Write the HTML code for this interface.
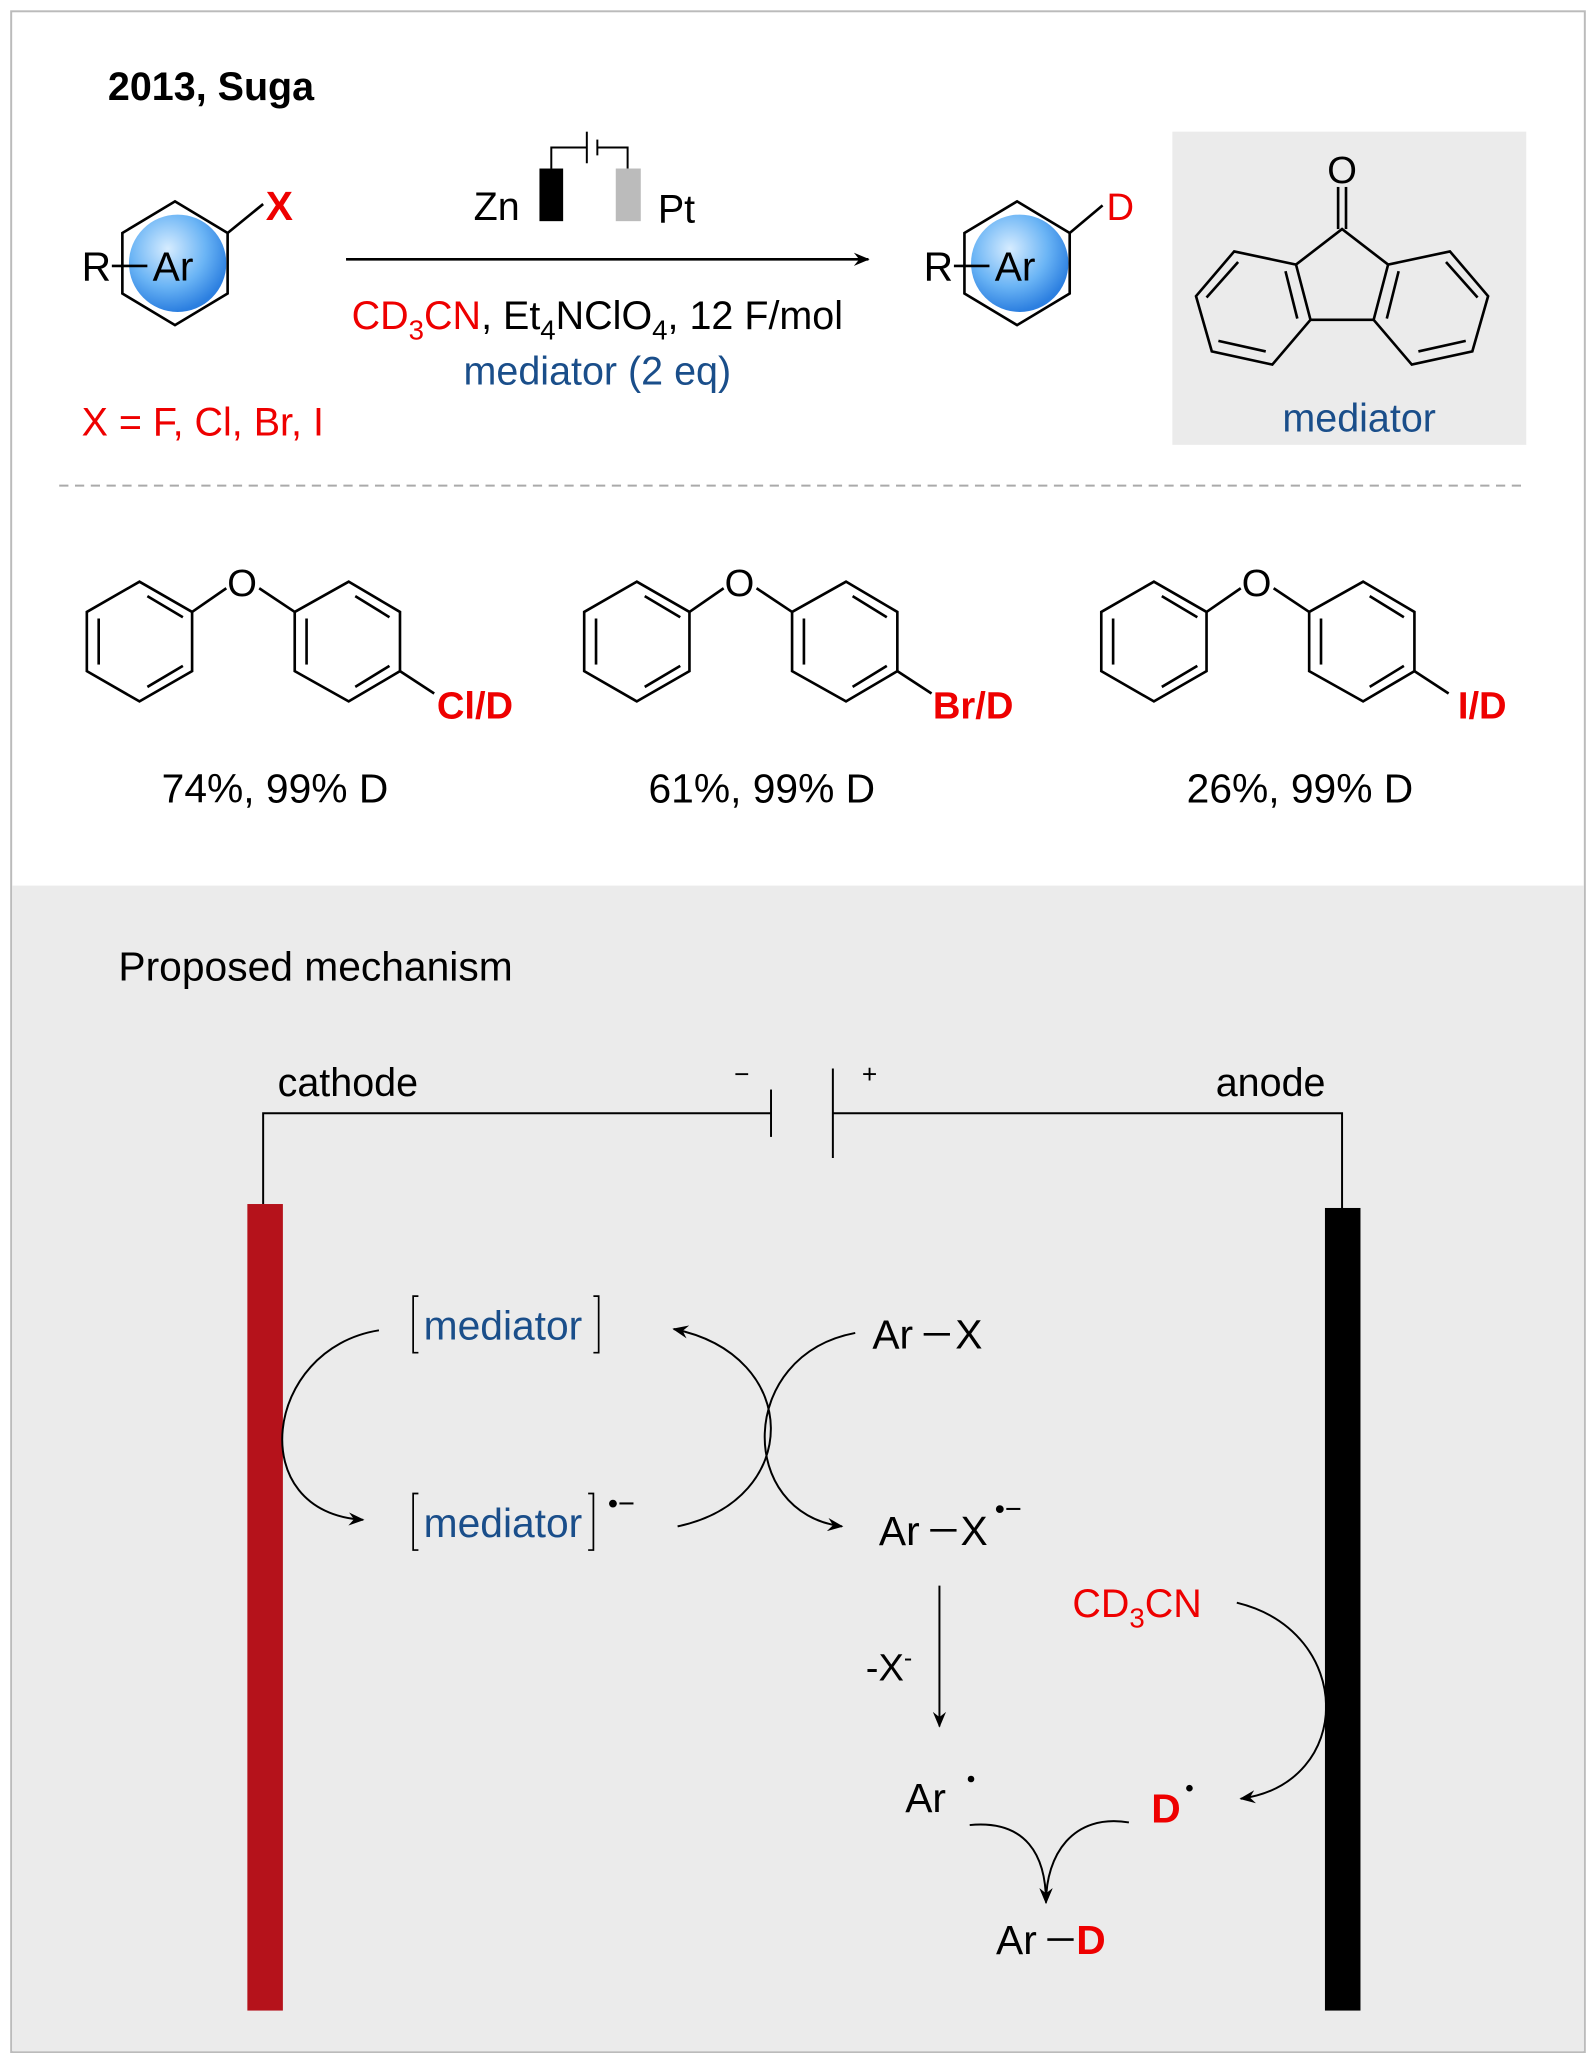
<!DOCTYPE html>
<html><head><meta charset="utf-8"><style>
html,body{margin:0;padding:0;background:#fff}
svg{display:block}
text{font-family:"Liberation Sans",Arial,sans-serif}
</style></head><body>
<svg width="1596" height="2062" viewBox="0 0 1213 1567" xmlns="http://www.w3.org/2000/svg">
<defs>
<radialGradient id="g" cx="40%" cy="35%" r="65%"><stop offset="0" stop-color="#d6ecff"/><stop offset="0.6" stop-color="#6ab4f5"/><stop offset="1" stop-color="#2c7fe0"/></radialGradient>
<marker id="ah" markerWidth="12" markerHeight="10" refX="11" refY="5" orient="auto" markerUnits="userSpaceOnUse"><path d="M0,0 L12,5 L0,10 L4,5z" fill="#000"/></marker>
</defs>
<rect x="0" y="0" width="1213" height="1567" fill="#fff"/>
<rect x="8.5" y="8.5" width="1196" height="1551" fill="#fff" stroke="#bbb" stroke-width="1.5"/>
<rect x="9.5" y="673" width="1194" height="886" fill="#ebebeb"/>

<text x="82" y="76" font-size="30" font-weight="bold">2013, Suga</text>

<!-- left arene -->
<g stroke="#000" stroke-width="2" fill="none">
<polygon points="133,153 173,177 173,223 133,247 93,223 93,177"/>
<line x1="173" y1="177" x2="200" y2="155"/>
</g>
<circle cx="135" cy="200" r="37" fill="url(#g)"/>
<line x1="85" y1="202" x2="112" y2="202" stroke="#000" stroke-width="2"/>
<text x="62" y="213" font-size="31">R</text>
<text x="116" y="213" font-size="31">Ar</text>
<text x="202" y="167" font-size="31" font-weight="bold" fill="#e00">X</text>

<!-- arrow and battery -->
<line x1="263" y1="197" x2="660" y2="197" stroke="#000" stroke-width="2" marker-end="url(#ah)"/>
<text x="360" y="167" font-size="30">Zn</text>
<rect x="410" y="128" width="18" height="40" fill="#000"/>
<rect x="468" y="128" width="19" height="40" fill="#bbb"/>
<g stroke="#000" stroke-width="1.5" fill="none">
<polyline points="419,128 419,112 446,112"/><line x1="446" y1="100" x2="446" y2="124"/>
<line x1="454" y1="106" x2="454" y2="118"/><polyline points="454,112 477,112 477,128"/>
</g>
<text x="500" y="169" font-size="30">Pt</text>
<text x="454" y="250" font-size="30" text-anchor="middle"><tspan fill="#e00">CD<tspan font-size="21" dy="8">3</tspan><tspan dy="-8">CN</tspan></tspan>, Et<tspan font-size="21" dy="8">4</tspan><tspan dy="-8">NClO</tspan><tspan font-size="21" dy="8">4</tspan><tspan dy="-8">, 12 F/mol</tspan></text>
<text x="454" y="292" font-size="30" text-anchor="middle" fill="#1a4e8a">mediator (2 eq)</text>
<text x="62" y="331" font-size="30" fill="#e00">X = F, Cl, Br, I</text>

<!-- product -->
<g stroke="#000" stroke-width="2" fill="none">
<polygon points="773,153 813,177 813,223 773,247 733,223 733,177"/>
<line x1="813" y1="177" x2="838" y2="156"/>
</g>
<circle cx="775" cy="200" r="37" fill="url(#g)"/>
<line x1="725" y1="202" x2="752" y2="202" stroke="#000" stroke-width="2"/>
<text x="702" y="213" font-size="31">R</text>
<text x="756" y="213" font-size="31">Ar</text>
<text x="841" y="167" font-size="29" fill="#e00">D</text>

<!-- mediator box -->
<rect x="891" y="100" width="269" height="238" fill="#ebebeb"/>
<g stroke="#000" stroke-width="2" fill="none">
<line x1="1017" y1="142" x2="1017" y2="174"/><line x1="1023" y1="142" x2="1023" y2="174"/>
<polyline points="985,201 1020,174 1055,201"/>
<polygon points="938,191 985,201 996,243 967,277 921,267 909,225"/>
<polygon points="1102,191 1055,201 1044,243 1073,277 1119,267 1131,225"/>
<line x1="996" y1="243" x2="1044" y2="243"/>
<line x1="941" y1="199" x2="917" y2="226"/>
<line x1="977" y1="206" x2="986" y2="242"/><line x1="926" y1="259" x2="962" y2="267"/>
<line x1="1099" y1="199" x2="1123" y2="226"/><line x1="1063" y1="206" x2="1054" y2="242"/><line x1="1114" y1="259" x2="1078" y2="267"/>
</g>
<text x="1020" y="139" font-size="29" text-anchor="middle">O</text>
<text x="1033" y="328" font-size="30" text-anchor="middle" fill="#1a4e8a">mediator</text>

<line x1="45" y1="369" x2="1160" y2="369" stroke="#aaa" stroke-width="1.5" stroke-dasharray="7,5"/>

<!-- diphenyl ethers -->
<g id="de" stroke="#000" stroke-width="2" fill="none">
<polygon points="106,442 146,465 146,510 106,533 66,510 66,465"/>
<line x1="112" y1="453" x2="139" y2="469"/><line x1="75" y1="470" x2="75" y2="505"/><line x1="112" y1="522" x2="139" y2="506"/>
<line x1="146" y1="465" x2="172" y2="447"/><line x1="197" y1="447" x2="224" y2="465"/>
<polygon points="265,442 304,465 304,510 265,533 224,510 224,465"/>
<line x1="270" y1="453" x2="296" y2="469"/><line x1="233" y1="470" x2="233" y2="505"/><line x1="270" y1="522" x2="296" y2="506"/>
<line x1="304" y1="510" x2="330" y2="527"/>
</g>
<use href="#de" x="378"/><use href="#de" x="771"/>
<g font-size="29" text-anchor="middle"><text x="184" y="453">O</text><text x="562" y="453">O</text><text x="955" y="453">O</text></g>
<g font-size="29" font-weight="bold" fill="#e00"><text x="332" y="546">Cl/D</text><text x="709" y="546">Br/D</text><text x="1108" y="546">I/D</text></g>
<g font-size="31" text-anchor="middle"><text x="209" y="610">74%, 99% D</text><text x="579" y="610">61%, 99% D</text><text x="988" y="610">26%, 99% D</text></g>

<!-- mechanism -->
<text x="90" y="745" font-size="31">Proposed mechanism</text>
<text x="211" y="833" font-size="30">cathode</text>
<text x="924" y="833" font-size="30">anode</text>
<text x="558" y="823" font-size="20">−</text>
<text x="655" y="823" font-size="20">+</text>
<g stroke="#000" stroke-width="1.5" fill="none">
<polyline points="200,915 200,846 586,846"/><line x1="586" y1="828" x2="586" y2="864"/>
<line x1="633" y1="812" x2="633" y2="880"/><polyline points="633,846 1020,846 1020,918"/>
</g>
<rect x="188" y="915" width="27" height="613" fill="#b5121b"/>
<rect x="1007" y="918" width="27" height="610" fill="#000"/>

<g font-size="31" fill="#1a4e8a"><text x="322" y="1018">mediator</text><text x="322" y="1168">mediator</text></g>
<g stroke="#000" stroke-width="1.3" fill="none">
<polyline points="318,985 314,985 314,1028 318,1028"/><polyline points="451,985 455,985 455,1028 451,1028"/>
<polyline points="318,1135 314,1135 314,1178 318,1178"/><polyline points="447,1135 451,1135 451,1178 447,1178"/>
</g>
<text x="462" y="1150" font-size="22">•−</text>
<g stroke="#000" stroke-width="1.5" fill="none" marker-end="url(#ah)">
<path d="M288,1011 C200,1025 185,1150 276,1155"/>
<path d="M515,1160 C610,1140 610,1030 512,1010"/>
<path d="M650,1013 C560,1030 560,1150 640,1160"/>
<line x1="714" y1="1205" x2="714" y2="1312"/>
<path d="M940,1218 C1030,1240 1030,1355 943,1367"/>
<path d="M737,1387 C780,1383 795,1410 795,1446"/>
<path d="M858,1385 C815,1378 795,1410 795,1446"/>
</g>
<g font-size="31"><text x="663" y="1025">Ar</text><text x="726" y="1025">X</text>
<text x="668" y="1174">Ar</text><text x="730" y="1174">X</text>
<text x="688" y="1377">Ar</text><text x="757" y="1485">Ar</text></g>
<g stroke="#000" stroke-width="2"><line x1="702" y1="1014" x2="722" y2="1014"/><line x1="707" y1="1163" x2="727" y2="1163"/><line x1="796" y1="1474" x2="816" y2="1474"/></g>
<text x="756" y="1154" font-size="22">•−</text>
<text x="658" y="1277" font-size="29">-X<tspan font-size="19" dy="-11">-</tspan></text>
<circle cx="738" cy="1352" r="2.5" fill="#000"/>
<text x="815" y="1229" font-size="30" fill="#e00">CD<tspan font-size="21" dy="8">3</tspan><tspan dy="-8">CN</tspan></text>
<text x="875" y="1385" font-size="31" font-weight="bold" fill="#e00">D</text>
<circle cx="904" cy="1359" r="2.5" fill="#000"/>
<text x="818" y="1485" font-size="31" font-weight="bold" fill="#e00">D</text>
</svg>
</body></html>
